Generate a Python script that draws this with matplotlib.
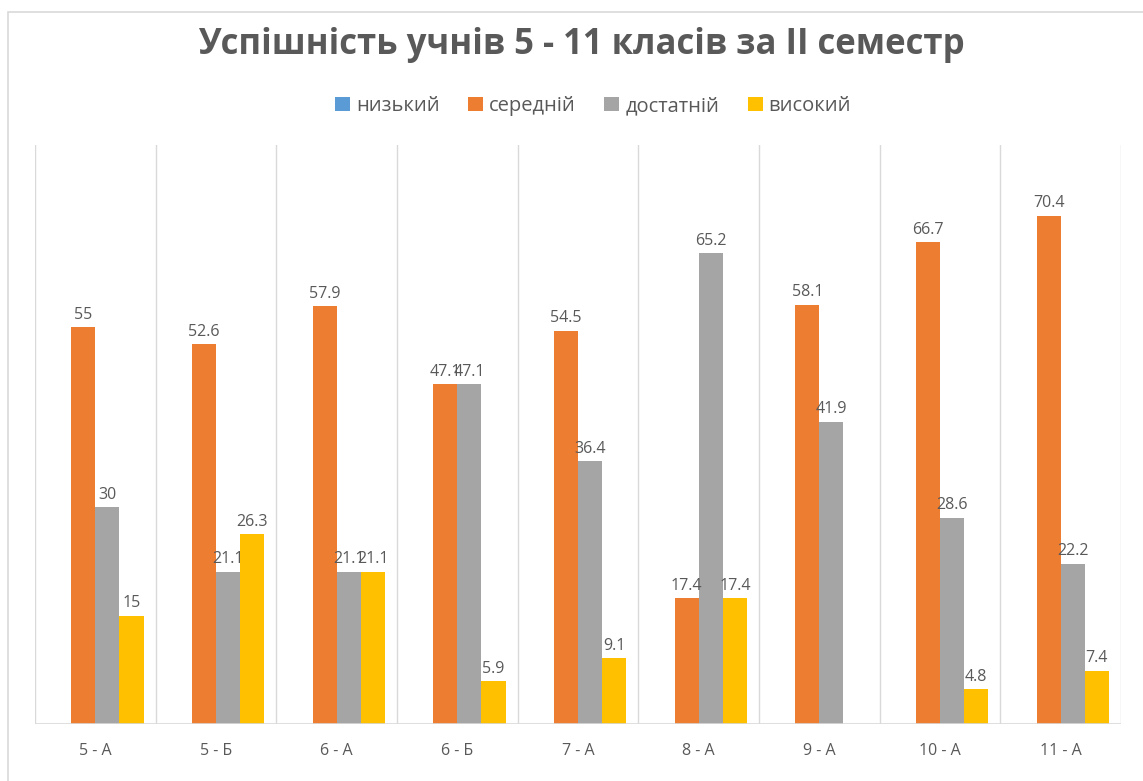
import matplotlib.pyplot as plt
import numpy as np
from matplotlib.patches import Rectangle

# ----- data ------------------------------------------------------------------
classes = ["5 - А", "5 - Б", "6 - А", "6 - Б", "7 - А", "8 - А", "9 - А", "10 - А", "11 - А"]
low = [np.nan] * 9
medium = [55, 52.6, 57.9, 47.1, 54.5, 17.4, 58.1, 66.7, 70.4]
sufficient = [30, 21.1, 21.1, 47.1, 36.4, 65.2, 41.9, 28.6, 22.2]
high = [15, 26.3, 21.1, 5.9, 9.1, 17.4, np.nan, 4.8, 7.4]
series_names = ["низький", "середній", "достатній", "високий"]
colors = ["#5B9BD5", "#ED7D31", "#A5A5A5", "#FFC000"]
# -----------------------------------------------------------------------------

txt = "#595959"
plt.rcParams['font.family'] = ['Open Sans', 'DejaVu Sans']

fig = plt.figure(figsize=(11.43, 7.81), dpi=100)
fig.patches.append(Rectangle((8 / 1143, -0.1), 1.2, 1 - 12 / 781 + 0.1, transform=fig.transFigure,
                             fill=False, edgecolor="#d9d9d9", lw=1.2))
ax = fig.add_axes([35 / 1143, 1 - 724 / 781, (1121 - 35) / 1143, (724 - 145) / 781])

x = np.arange(len(classes))
w = 0.2
data = [low, medium, sufficient, high]
for i, (vals, name, c) in enumerate(zip(data, series_names, colors)):
    pos = x + (i - 1.5) * w
    v = np.array(vals, dtype=float)
    ax.bar(pos, np.nan_to_num(v), w, color=c, label=name, zorder=3)
    for px, val in zip(pos, v):
        if np.isnan(val):
            continue
        ax.text(px, val + 0.6, f"{val:g}", ha="center", va="bottom", fontsize=11.5, color=txt, zorder=4)

ax.set_xlim(-0.5, len(classes) - 0.5)
ax.set_ylim(0, 80.2)
for b in np.arange(-0.5, len(classes), 1.0):
    ax.axvline(b, color="#d9d9d9", lw=1, zorder=1)
ax.axhline(0, color="#d9d9d9", lw=1.2, zorder=5)
for s in ax.spines.values():
    s.set_visible(False)
ax.set_yticks([])
ax.set_xticks(x)
ax.set_xticklabels(classes, fontsize=11.5, color=txt)
ax.tick_params(axis="x", length=0, pad=14)

fig.text(0.509, 1 - 45 / 781, "Успішність учнів 5 - 11 класів за II семестр", ha="center", va="center",
         fontsize=25, fontweight="bold", color=txt)
fig.legend(loc="center", bbox_to_anchor=(0.519, 1 - 106 / 781), ncol=4, frameon=False,
           fontsize=14.5, labelcolor=txt, handlelength=0.75, handleheight=0.75, handletextpad=0.3,
           columnspacing=1.4)

plt.savefig("out.png", dpi=100)
